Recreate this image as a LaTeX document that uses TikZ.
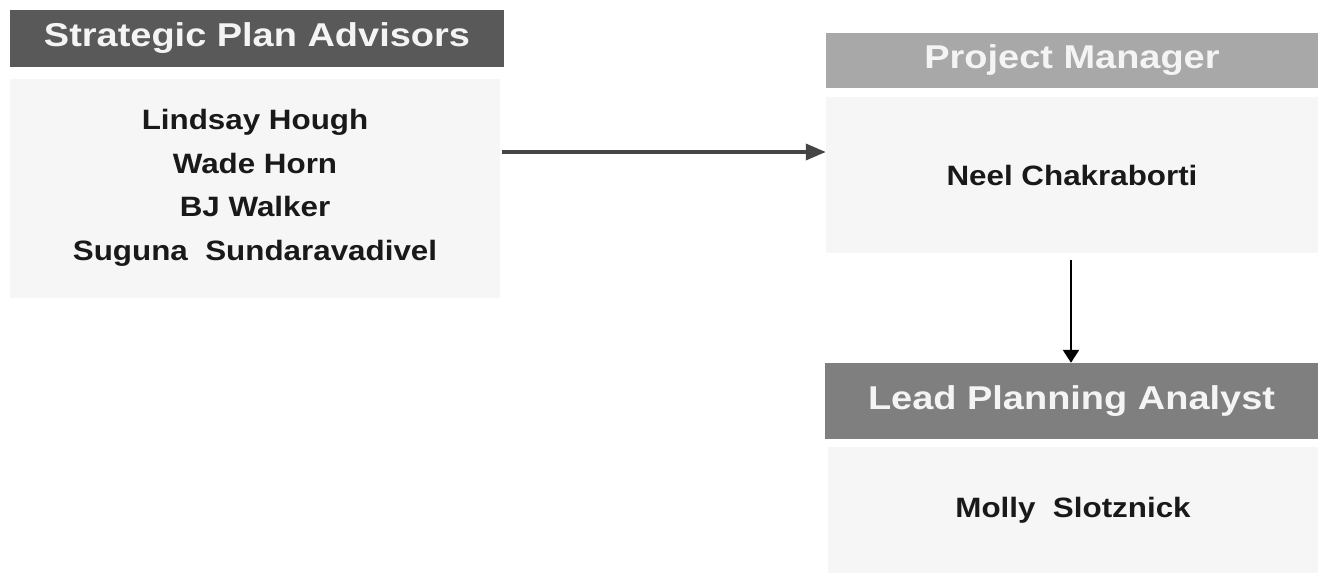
\documentclass[tikz,border=0pt]{standalone}
\usepackage{fontspec}
\setmainfont{Liberation Sans}
\newfontfamily\hdfont[FakeStretch=1.15]{Liberation Sans Bold}
\newfontfamily\bdfont[FakeStretch=1.12]{Liberation Sans Bold}
\usetikzlibrary{arrows.meta}
\definecolor{hdark}{HTML}{595959}
\definecolor{hlight}{HTML}{A8A8A8}
\definecolor{hmid}{HTML}{7F7F7F}
\definecolor{bodyfill}{HTML}{F6F6F6}
\definecolor{arrowgrey}{HTML}{454545}
\definecolor{hdtext}{HTML}{F4F4F4}
\tikzset{
  hdbox/.style={rectangle, inner sep=0pt, text=hdtext, font=\hdfont\fontsize{33}{38}\selectfont},
  bodybox/.style={rectangle, inner sep=0pt, fill=bodyfill, align=center, text=black!90, font=\bdfont\fontsize{28}{43.5}\selectfont},
  conn/.style={line width=3.5pt, -{Triangle[length=20pt,width=16pt]}},
}
\begin{document}
\begin{tikzpicture}[x=1pt,y=-1pt]
\useasboundingbox[fill=white] (0,0) rectangle (1318,573);
% left group
\node[hdbox, fill=hdark, minimum width=494pt, minimum height=57pt] (advh) at (257,38.5) {Strategic Plan Advisors};
\node[bodybox, minimum width=490pt, minimum height=219pt] (advb) at (255,188) {Lindsay Hough\\Wade Horn\\BJ Walker\\Suguna\ \ Sundaravadivel};
% project manager
\node[hdbox, fill=hlight, minimum width=492pt, minimum height=55pt] (pmh) at (1072,60.5) {Project Manager};
\node[bodybox, minimum width=492pt, minimum height=156pt] (pmb) at (1072,175) {Neel Chakraborti};
% lead planning analyst
\node[hdbox, fill=hmid, minimum width=493pt, minimum height=76pt] (lph) at (1071.5,401) {Lead Planning Analyst};
\node[bodybox, minimum width=490pt, minimum height=126pt] (lpb) at (1073,510) {Molly\ \ Slotznick};
% connectors
\coordinate (h1) at (502,152);
\draw[conn, draw=arrowgrey, fill=arrowgrey] (h1) -- (h1 -| pmb.west);
\coordinate (v1) at (1071,260);
\draw[line width=2.5pt, draw=black, -{Triangle[length=13pt,width=16pt]}] (v1) -- (v1 |- lph.north);
\end{tikzpicture}
\end{document}
